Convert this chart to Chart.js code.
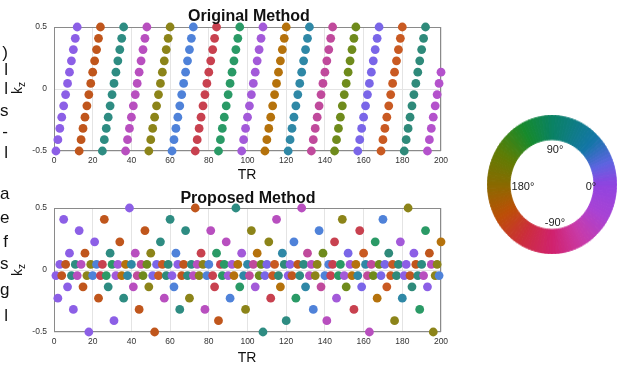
<!DOCTYPE html>
<html>
<head>
<meta charset="utf-8">
<script src="https://cdn.jsdelivr.net/npm/chart.js@4.4.1/dist/chart.umd.min.js"></script>
<style>
  html, body { margin: 0; padding: 0; background: #fff; }
  #page { position: relative; width: 621px; height: 365px; overflow: hidden;
          font-family: 'Liberation Sans', Arial, Helvetica, sans-serif; color: #111; }
  .abs { position: absolute; white-space: nowrap; line-height: 1; }
  canvas { position: absolute; }
  .title { font-weight: bold; font-size: 16px; transform: translateX(-50%); }
  .xlab { font-size: 14px; transform: translateX(-50%); }
  .ylab { font-size: 14px; transform: translate(-50%, -50%) rotate(-90deg); }
  .ylab sub { font-size: 10px; vertical-align: -3px; }
  .wheel-lab { font-size: 11px; transform: translate(-50%, -50%); color: #222; }
  .cut { font-size: 17px; left: 0; width: 8px; text-align: right; color: #111; }
  #wheelWrap { position: absolute; left: 487px; top: 115px; width: 130px; height: 130px;
               transform: scaleY(1.07); transform-origin: 0 0; }
</style>
</head>
<body>
<div id="page">
  <canvas id="origChart" width="470" height="185" style="left:0;top:0"></canvas>
  <canvas id="propChart" width="470" height="183" style="left:0;top:182px"></canvas>
  <div id="wheelWrap"><canvas id="wheelChart" width="130" height="130" style="left:0;top:0"></canvas></div>

  <div class="abs title" style="left:249px;top:8px">Original Method</div>
  <div class="abs title" style="left:248px;top:190px">Proposed Method</div>
  <div class="abs xlab" style="left:247px;top:167px">TR</div>
  <div class="abs xlab" style="left:247px;top:350px">TR</div>
  <div class="abs ylab" style="left:18px;top:88px">k<sub>z</sub></div>
  <div class="abs ylab" style="left:18px;top:270px">k<sub>z</sub></div>

  <div class="abs wheel-lab" style="left:555px;top:149px">90°</div>
  <div class="abs wheel-lab" style="left:523px;top:186px">180°</div>
  <div class="abs wheel-lab" style="left:591px;top:186px">0°</div>
  <div class="abs wheel-lab" style="left:555px;top:222px">-90°</div>
</div>

<script>
// kz sampling levels (12 partitions between -0.5 and 0.5)
const kzLevels = [-0.5, -0.409, -0.318, -0.227, -0.136, -0.045, 0.045, 0.136, 0.227, 0.318, 0.409, 0.5]
const xTicks = [0, 20, 40, 60, 80, 100, 120, 140, 160, 180, 200]
const yTicks = [-0.5, 0, 0.5]

// original method: one sweep per column, bottom to top
const origStartTR = [1, 13, 25, 37, 49, 61, 73, 85, 97, 109, 121, 133, 145, 157, 169, 181, 193]
const origPointCount = [12, 12, 12, 12, 12, 12, 12, 12, 12, 12, 12, 12, 12, 12, 12, 12, 8]
const origColors = [
  '#8c5fe6', '#c0561c', '#2e8c82', '#b84fbf', '#8c8419', '#4f82d9', '#c8414f', '#2a9a66',
  '#a35ad9', '#b5720c', '#2f88a6', '#c04a9c', '#6f8b1c', '#7a66e8', '#c95a22', '#2f8a7a', '#b452cc'
]

// proposed method: TR indices that land on each kz level
const propLevel0 = [18, 52, 108, 163, 196]
const propLevel1 = [31, 85, 120, 141, 176]
const propLevel2 = [10, 44, 65, 78, 99, 134, 155, 189]
const propLevel3 = [2, 23, 36, 57, 70, 91, 112, 125, 146, 167, 180]
const propLevel4 = [7, 15, 28, 41, 49, 62, 83, 96, 104, 117, 130, 138, 151, 159, 172, 185, 193]
const propLevel5 = [1, 4, 9, 12, 17, 20, 24, 27, 32, 35, 38, 43, 46, 51, 54, 58, 61, 66, 69, 72, 75, 79, 82, 87, 90, 93, 98,
  101, 106, 109, 113, 116, 121, 123, 127, 132, 135, 140, 143, 147, 150, 154, 157, 162, 165, 169, 174, 177, 181, 184, 188, 191, 197, 199]
const propLevel6 = [3, 6, 11, 14, 19, 22, 25, 30, 33, 37, 40, 45, 48, 53, 56, 59, 64, 67, 71, 74, 77, 80, 86, 88, 92, 95,
  100, 103, 107, 110, 114, 119, 122, 126, 129, 133, 136, 142, 144, 148, 153, 156, 161, 164, 168, 171, 175, 178, 182, 187, 190, 195, 198]
const propLevel7 = [8, 16, 29, 42, 50, 63, 76, 84, 97, 105, 118, 131, 139, 152, 160, 173, 186, 194]
const propLevel8 = [21, 34, 55, 89, 111, 124, 145, 166, 179, 200]
const propLevel9 = [13, 47, 68, 81, 102, 137, 158, 192]
const propLevel10 = [5, 26, 60, 115, 149, 170]
const propLevel11 = [39, 73, 94, 128, 183]

// colour wheel (phase legend)
const wheelStopAngles = [0, 20, 45, 90, 118, 150, 180, 210, 240, 270, 300, 330, 360]
const wheelStopColors = ['#9044e0', '#5c64e0', '#1276a6', '#0a8262', '#168a2c', '#5e7c04', '#8a6a00',
  '#bc4e06', '#cc2c3c', '#d0226e', '#c83aa8', '#a842d4', '#9044e0']
const wheelSegments = 120

function buildOrigPoints() {
  const pts = []
  origStartTR.forEach((start, c) => {
    for (let k = 0; k < origPointCount[c]; k++) {
      pts.push({ x: start + k, y: kzLevels[k], color: origColors[c] })
    }
  })
  return pts
}

function buildPropPoints() {
  const levels = [propLevel0, propLevel1, propLevel2, propLevel3, propLevel4, propLevel5,
    propLevel6, propLevel7, propLevel8, propLevel9, propLevel10, propLevel11]
  const pts = []
  levels.forEach((trs, lv) => {
    trs.forEach((tr, k) => {
      pts.push({ x: tr, y: kzLevels[lv], color: origColors[k % 16] })
    })
  })
  // later TRs are drawn on top
  pts.sort((a, b) => a.x - b.x)
  return pts
}

const boxPlugin = {
  id: 'box',
  beforeDatasetsDraw(chart) {
    const { ctx, chartArea: a } = chart
    ctx.save()
    ctx.strokeStyle = '#8a8a8a'
    ctx.lineWidth = 1
    ctx.strokeRect(Math.round(a.left) + 0.5, Math.round(a.top) + 0.5,
      Math.round(a.right - a.left) - 1, Math.round(a.bottom - a.top) - 1)
    ctx.restore()
  }
}

function makeKzChart(id, points, padTop, xAxisHeight) {
  const ctx = document.getElementById(id).getContext('2d')
  return new Chart(ctx, {
    type: 'scatter',
    data: {
      datasets: [{
        data: points.map(p => ({ x: p.x, y: p.y })),
        pointBackgroundColor: points.map(p => p.color),
        pointBorderWidth: 0,
        pointRadius: 4.4,
        pointHoverRadius: 4.4,
        clip: 8
      }]
    },
    options: {
      responsive: false,
      animation: false,
      events: [],
      layout: { padding: { top: padTop, left: 0, right: 29, bottom: 0 } },
      plugins: { legend: { display: false }, tooltip: { enabled: false } },
      scales: {
        x: {
          type: 'linear',
          min: 0,
          max: 200,
          afterBuildTicks: s => { s.ticks = xTicks.map(v => ({ value: v })) },
          afterFit: s => { s.height = xAxisHeight },
          grid: { color: '#e4e4e4', drawTicks: false },
          border: { display: false },
          ticks: { padding: 5, color: '#333', font: { size: 8.5, family: "'Liberation Sans', Arial, sans-serif" } }
        },
        y: {
          type: 'linear',
          min: -0.5,
          max: 0.5,
          afterBuildTicks: s => { s.ticks = yTicks.map(v => ({ value: v })) },
          afterFit: s => { s.width = 54 },
          grid: { color: '#e4e4e4', drawTicks: false },
          border: { display: false },
          ticks: {
            padding: 7,
            color: '#333',
            font: { size: 8.5, family: "'Liberation Sans', Arial, sans-serif" },
            callback: v => String(v)
          }
        }
      }
    },
    plugins: [boxPlugin]
  })
}

function wheelColor(angle) {
  const a = ((angle % 360) + 360) % 360
  let i = 0
  while (i < wheelStopAngles.length - 2 && a > wheelStopAngles[i + 1]) i++
  const t = (a - wheelStopAngles[i]) / (wheelStopAngles[i + 1] - wheelStopAngles[i])
  const c0 = wheelStopColors[i], c1 = wheelStopColors[i + 1]
  const ch = (c, o) => parseInt(c.substr(o, 2), 16)
  const mix = o => Math.round(ch(c0, o) + (ch(c1, o) - ch(c0, o)) * t)
  return 'rgb(' + mix(1) + ',' + mix(3) + ',' + mix(5) + ')'
}

function makeWheel() {
  const step = 360 / wheelSegments
  const colors = []
  for (let i = 0; i < wheelSegments; i++) {
    // chart.js sweeps clockwise, i.e. towards negative phase
    colors.push(wheelColor(-(i + 0.5) * step))
  }
  const ctx = document.getElementById('wheelChart').getContext('2d')
  return new Chart(ctx, {
    type: 'doughnut',
    data: {
      datasets: [{
        data: colors.map(() => 1),
        backgroundColor: colors,
        borderColor: colors,
        borderWidth: 1
      }]
    },
    options: {
      responsive: false,
      animation: false,
      events: [],
      rotation: 90,
      cutout: '65%',
      layout: { padding: 0 },
      plugins: { legend: { display: false }, tooltip: { enabled: false } }
    }
  })
}

function addCutText() {
  // line endings of a neighbouring paragraph, clipped at the left edge
  const chars = [')', 'l', 'l', 's', '-', 'l', 'a', 'e', 'f', 's', 'g', 'l']
  const tops = [44, 61, 80, 102, 123, 144, 185, 209, 233, 255, 281, 307]
  const page = document.getElementById('page')
  chars.forEach((ch, i) => {
    const d = document.createElement('div')
    d.className = 'abs cut'
    d.style.top = tops[i] + 'px'
    d.textContent = ch
    page.appendChild(d)
  })
}

makeKzChart('origChart', buildOrigPoints(), 27, 34)
makeKzChart('propChart', buildPropPoints(), 26, 33)
makeWheel()
addCutText()
</script>
</body>
</html>
